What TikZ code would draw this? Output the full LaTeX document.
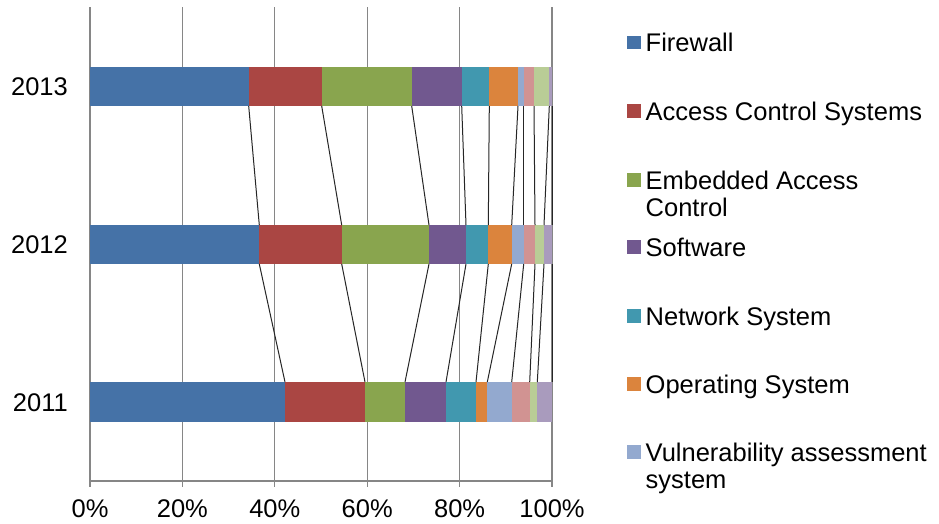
\documentclass[tikz,border=0pt]{standalone}
\usepackage{fontspec}
\setmainfont{Liberation Sans}
\definecolor{cA}{RGB}{69,114,167}
\definecolor{cB}{RGB}{170,70,67}
\definecolor{cC}{RGB}{137,165,78}
\definecolor{cD}{RGB}{113,88,143}
\definecolor{cE}{RGB}{65,152,175}
\definecolor{cF}{RGB}{219,132,61}
\definecolor{cG}{RGB}{147,169,207}
\definecolor{cH}{RGB}{209,147,146}
\definecolor{cI}{RGB}{185,205,150}
\definecolor{cJ}{RGB}{169,155,189}
\definecolor{gridgray}{RGB}{134,134,134}
\begin{document}
\begin{tikzpicture}[x=1pt,y=-1pt,
  gridline/.style={draw=gridgray,line width=1.2pt},
  serline/.style={draw=black!85,line width=1pt},
  txt/.style={inner sep=0pt,font=\fontsize{25.5}{27.5}\selectfont},
  legsq/.style={inner sep=0pt,minimum size=13.5pt}]
\fill[white] (0,0) rectangle (939,523);
\useasboundingbox (0,0) rectangle (939,523);
% gridlines and axes
\foreach \g in {90,182.4,274.8,367.2,459.6,552}
  \draw[gridline] (\g,7) -- (\g,487);
\draw[gridline] (90,481) -- (552,481);
% axis labels
\foreach \g/\t in {90/0,182.4/20,274.8/40,367.2/60,459.6/80,552/100}
  \node[txt,anchor=base] (ax\t) at (\g,517) {\t\%};
% year labels
\node[txt,anchor=base east] (y13) at (68,95) {2013};
\node[txt,anchor=base east] (y12) at (68,253) {2012};
\node[txt,anchor=base east] (y11) at (68,411) {2011};
% bars
\foreach \a/\b/\c in {90/248.7/cA,248.7/321.7/cB,321.7/411.7/cC,411.7/461.7/cD,461.7/489.3/cE,489.3/518/cF,518/523.7/cG,523.7/534/cH,534/549.3/cI,549.3/552/cJ}
  \fill[\c] (\a,67) rectangle (\b,106);
\foreach \a/\b/\c in {90/259.3/cA,259.3/341.7/cB,341.7/429/cC,429/466/cD,466/488.3/cE,488.3/511.7/cF,511.7/523.7/cG,523.7/535/cH,535/544/cI,544/552/cJ}
  \fill[\c] (\a,225) rectangle (\b,264);
\foreach \a/\b/\c in {90/285/cA,285/365/cB,365/405/cC,405/446/cD,446/476/cE,476/487.3/cF,487.3/511.7/cG,511.7/529.7/cH,529.7/537.3/cI,537.3/552/cJ}
  \fill[\c] (\a,382) rectangle (\b,422);
% series lines
\foreach \k/\p/\q/\r in {1/248.7/259.3/285,2/321.7/341.7/365,3/411.7/429/405,4/461.7/466/446,5/489.3/488.3/476,6/518/511.7/487.3,7/523.7/523.7/511.7,8/534/535/529.7,9/549.3/544/537.3,10/552/552/552}{
  \coordinate (a\k) at (\p,106);
  \coordinate (b\k) at (\q,225);
  \coordinate (c\k) at (\q,264);
  \coordinate (d\k) at (\r,382);
  \draw[serline] (a\k) -- (b\k);
  \draw[serline] (c\k) -- (d\k);
}
% legend
\foreach \n/\y/\b/\c/\t in {1/42.7/0/cA/Firewall,2/111/0/cB/Access Control Systems,3/180/27.5/cC/{Embedded Access\\Control},4/247/0/cD/Software,5/316/0/cE/Network System,6/384/0/cF/Operating System,7/452/27.5/cG/{Vulnerability assessment\\system}}{
  \node[legsq,fill=\c] (sq\n) at (634,\y) {};
  \node[txt,anchor=base west,align=left] (lt\n) at (645.5,\y+9.1+\b) {\t};
}
\end{tikzpicture}
\end{document}
